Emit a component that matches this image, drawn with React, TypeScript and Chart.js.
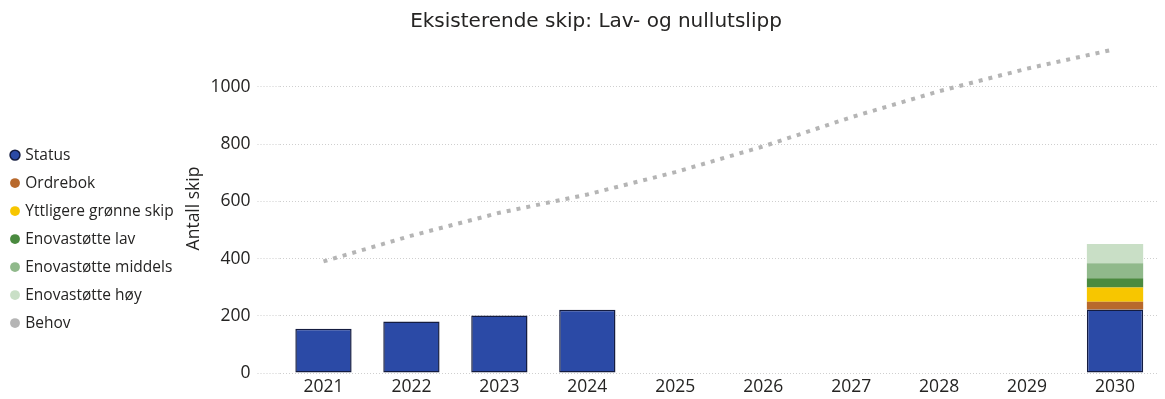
import { useEffect, useRef } from "react";
import { Chart, registerables } from "chart.js";

Chart.register(...registerables);

const years = ["2021", "2022", "2023", "2024", "2025", "2026", "2027", "2028", "2029", "2030"];
const status = [155, 180, 201, 221, null, null, null, null, null, 222];
const ordrebok = [null, null, null, null, null, null, null, null, null, 27];
const yttligere = [null, null, null, null, null, null, null, null, null, 50];
const enovaLav = [null, null, null, null, null, null, null, null, null, 32];
const enovaMiddels = [null, null, null, null, null, null, null, null, null, 53];
const enovaHoy = [null, null, null, null, null, null, null, null, null, 67];
const behov = [390, 480, 560, 624, 702, 792, 894, 985, 1064, 1132];

const titleText = "Eksisterende skip: Lav- og nullutslipp";
const yTitle = "Antall skip";

const TEXT = "#252423";
const FONT = "'Open Sans', 'Noto Sans', sans-serif";

export default function App() {
  const ref = useRef<HTMLCanvasElement | null>(null);

  useEffect(() => {
    if (!ref.current) return;
    const barBase = {
      type: "bar" as const,
      stack: "s",
      borderWidth: 0,
      barPercentage: 0.64,
      categoryPercentage: 1,
    };
    const chart = new Chart(ref.current, {
      type: "bar",
      data: {
        labels: years,
        datasets: [
          {
            ...barBase,
            label: "Status",
            data: status,
            backgroundColor: "#2B4AA6",
            borderColor: "#141C40",
            borderWidth: 1.5,
            borderSkipped: false,
          },
          { ...barBase, label: "Ordrebok", data: ordrebok, backgroundColor: "#B8692C", borderColor: "#B8692C" },
          { ...barBase, label: "Yttligere grønne skip", data: yttligere, backgroundColor: "#F7C600", borderColor: "#F7C600" },
          { ...barBase, label: "Enovastøtte lav", data: enovaLav, backgroundColor: "#4A8A3F", borderColor: "#4A8A3F" },
          { ...barBase, label: "Enovastøtte middels", data: enovaMiddels, backgroundColor: "#90B98B", borderColor: "#90B98B" },
          { ...barBase, label: "Enovastøtte høy", data: enovaHoy, backgroundColor: "#C9DFC6", borderColor: "#C9DFC6" },
          {
            type: "line" as const,
            label: "Behov",
            stack: "line",
            data: behov,
            borderColor: "#B5B5B5",
            backgroundColor: "#B5B5B5",
            borderWidth: 4,
            borderDash: [4, 6],
            borderCapStyle: "butt",
            pointRadius: 0,
            pointHoverRadius: 0,
            tension: 0,
            fill: false,
          } as any,
        ],
      },
      options: {
        animation: false,
        responsive: true,
        maintainAspectRatio: false,
        layout: { padding: { top: 0, right: -27, bottom: -2, left: 0 } },
        plugins: {
          title: {
            display: true,
            text: titleText,
            color: TEXT,
            font: { family: "'DejaVu Sans', sans-serif", size: 20, weight: "normal" },
            padding: { top: 10, bottom: 10 },
          },
          legend: {
            position: "left",
            align: "center",
            title: {
              display: true,
              text: " ",
              font: { size: 1 },
              padding: { top: 76, bottom: 0 },
            },
            labels: {
              usePointStyle: true,
              pointStyle: "circle",
              boxWidth: 5,
              boxHeight: 7,
              padding: 12.5,
              color: TEXT,
              font: { family: FONT, size: 15.5 },
              generateLabels: (c: any) => {
                const items = Chart.defaults.plugins.legend.labels.generateLabels(c);
                return items.map((it: any, i: number) => ({
                  ...it,
                  lineWidth: i === 0 ? 1.5 : 0,
                  lineDash: [],
                  strokeStyle: i === 0 ? "#141C40" : it.fillStyle,
                  fillStyle: c.data.datasets[i].backgroundColor,
                }));
              },
            },
          },
          tooltip: { enabled: false },
        },
        scales: {
          x: {
            stacked: true,
            grid: { display: false, drawTicks: false },
            border: { display: false },
            ticks: { color: TEXT, font: { family: FONT, size: 17.5 }, padding: 3.5 },
          },
          y: {
            stacked: true,
            min: 0,
            max: 1150,
            border: { display: false, dash: [1, 2] },
            afterFit: (s: any) => {
              const lw = s.chart.legend ? s.chart.legend.width : 0;
              s.width = 279.5 - lw;
            },
            grid: {
              color: "#CFCFCF",
              lineWidth: 1,
              drawTicks: true,
              tickLength: 22,
              tickColor: "#CFCFCF",
              tickBorderDash: [1, 2],
            },
            ticks: {
              stepSize: 200,
              includeBounds: false,
              color: TEXT,
              font: { family: FONT, size: 17.5 },
              padding: 7,
              callback: (v: any) => String(v),
            },
            title: {
              display: true,
              text: yTitle,
              color: TEXT,
              font: { family: FONT, size: 17.5 },
              padding: { top: 0, bottom: 0 },
            },
          },
          yRight: {
            position: "right",
            display: true,
            min: 0,
            max: 1150,
            grid: { display: false, drawOnChartArea: false, drawTicks: false },
            border: { display: false },
            ticks: { display: false },
            afterFit: (s: any) => {
              s.width = 33;
            },
          },
        },
      } as any,
    });
    return () => chart.destroy();
  }, []);

  return (
    <div style={{ position: "fixed", left: 0, top: 0, width: 1165, height: 399, background: "#fff" }}>
      <canvas ref={ref} />
    </div>
  );
}
